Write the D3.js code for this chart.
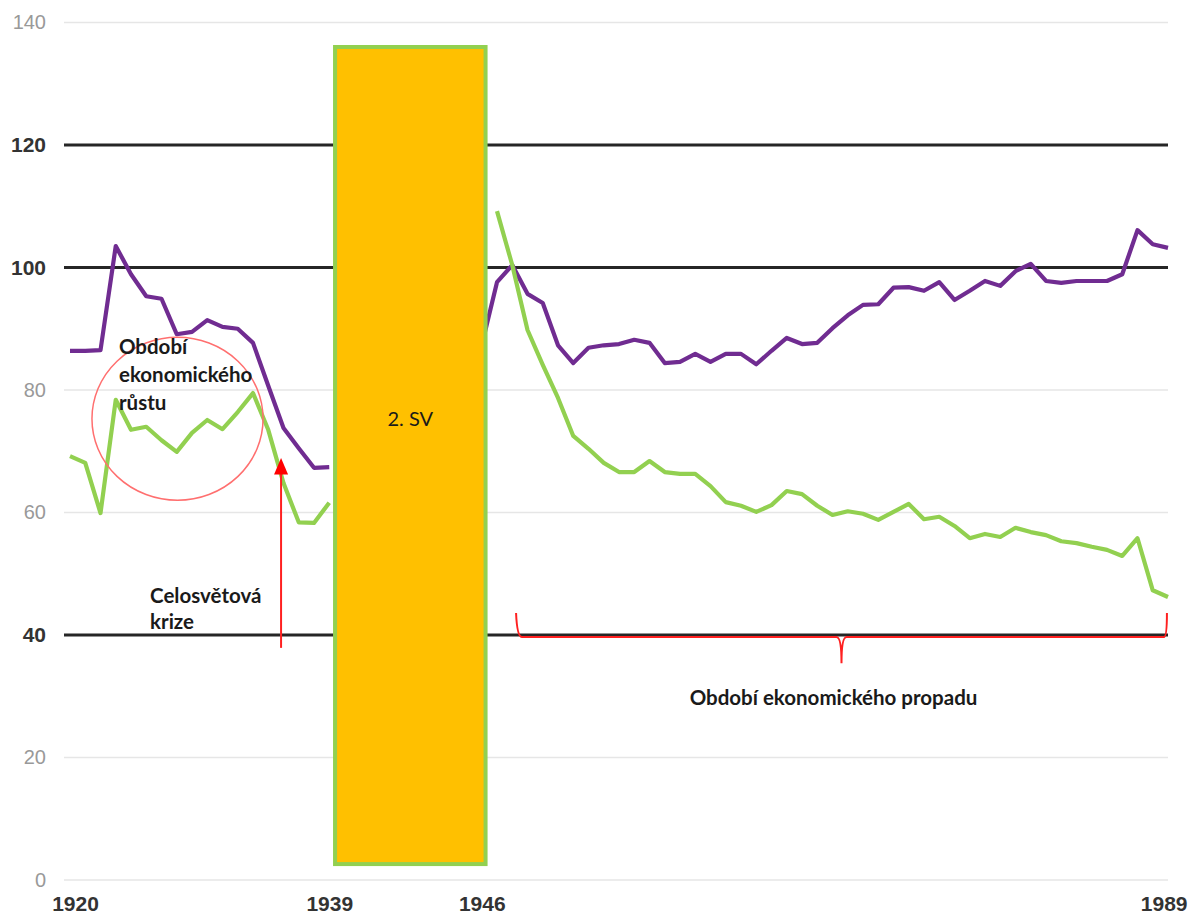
<!DOCTYPE html>
<html>
<head>
<meta charset="utf-8">
<script src="https://cdn.jsdelivr.net/npm/d3@7/dist/d3.min.js"></script>
<style>
  body { margin: 0; background: #fff; }
  svg { display: block; }
</style>
</head>
<body>
<div id="chart"></div>
<script>
// years before the war and after it
const preYears = [1920, 1921, 1922, 1923, 1924, 1925, 1926, 1927, 1928, 1929,
    1930, 1931, 1932, 1933, 1934, 1935, 1936, 1937];
const postYears = [1947, 1948, 1949, 1950, 1951, 1952, 1953, 1954, 1955, 1956,
    1957, 1958, 1959, 1960, 1961, 1962, 1963, 1964, 1965, 1966,
    1967, 1968, 1969, 1970, 1971, 1972, 1973, 1974, 1975, 1976,
    1977, 1978, 1979, 1980, 1981, 1982, 1983, 1984, 1985, 1986,
    1987, 1988, 1989, 1990, 1991, 1992];

// purple series
const purplePre = [86.4, 86.4, 86.5, 103.5, 98.9, 95.3, 94.9, 89.1, 89.5, 91.4,
    90.3, 90.0, 87.7, 80.7, 73.8, 70.5, 67.3, 67.4];
const purplePost = [87.3, 97.6, 100.4, 95.7, 94.2, 87.3, 84.4, 86.9, 87.3, 87.5,
    88.2, 87.7, 84.4, 84.6, 85.9, 84.6, 85.9, 85.9, 84.2, 86.4,
    88.5, 87.5, 87.7, 90.1, 92.2, 93.9, 94.0, 96.7, 96.8, 96.2,
    97.6, 94.7, 96.2, 97.8, 97.0, 99.4, 100.6, 97.8, 97.5, 97.8,
    97.8, 97.8, 98.9, 106.1, 103.8, 103.2];

// green series
const greenPre = [69.2, 68.1, 59.9, 78.4, 73.5, 74.0, 71.8, 69.9, 73.0, 75.1,
    73.6, 76.4, 79.5, 73.5, 64.8, 58.4, 58.3, 61.6];
const greenPost = [null, 109.2, 100.4, 89.8, 84.1, 78.7, 72.5, 70.4, 68.1, 66.6,
    66.6, 68.4, 66.6, 66.3, 66.3, 64.3, 61.7, 61.1, 60.1, 61.2,
    63.5, 63.0, 61.1, 59.6, 60.2, 59.8, 58.8, 60.1, 61.4, 58.9,
    59.3, 57.8, 55.8, 56.5, 56.0, 57.5, 56.8, 56.3, 55.3, 55.0,
    54.4, 53.9, 52.9, 55.8, 47.3, 46.2];

// axes
const yTicks = [0, 20, 40, 60, 80, 100, 120, 140];
const yStrong = [40, 100, 120];
const xTickYears = [1920, 1937, 1947, 1992];
const xTickLabels = ["1920", "1939", "1946", "1989"];

// war block (years, values)
const warFrom = 1937.38, warTo = 1947.25, warLow = 2.6, warHigh = 136;
const warLabel = "2. SV";

const width = 1192;
const height = 921;

const svg = d3.select("#chart")
    .append("svg")
    .attr("width", width)
    .attr("height", height);

const x = d3.scaleLinear().domain([1920, 1992]).range([70, 1168]);
const y = d3.scaleLinear().domain([0, 140]).range([880, 22.5]);

const gridLeft = 64, gridRight = 1168;

// gridlines
svg.append("g")
    .selectAll("line")
    .data(yTicks)
    .enter().append("line")
    .attr("x1", gridLeft)
    .attr("x2", gridRight)
    .attr("y1", d => y(d))
    .attr("y2", d => y(d))
    .attr("stroke", d => yStrong.includes(d) ? "#262626" : "#e6e6e6")
    .attr("stroke-width", d => yStrong.includes(d) ? 3 : 1.5);

// y axis labels
const yAxis = svg.append("g")
    .attr("transform", `translate(46,0)`)
    .call(d3.axisLeft(y).tickValues(yTicks).tickSize(0).tickPadding(0));
yAxis.select(".domain").remove();
yAxis.selectAll("text")
    .attr("font-family", "Liberation Sans, Arial, sans-serif")
    .attr("font-size", d => yStrong.includes(d) ? 21 : 20)
    .attr("font-weight", d => yStrong.includes(d) ? "bold" : "normal")
    .attr("fill", d => yStrong.includes(d) ? "#333" : "#999");

// x axis labels
const xAxis = svg.append("g")
    .attr("transform", `translate(0,896)`)
    .call(d3.axisBottom(x).tickValues(xTickYears)
        .tickFormat((d, i) => xTickLabels[i]).tickSize(0).tickPadding(0));
xAxis.select(".domain").remove();
xAxis.selectAll("text")
    .attr("font-family", "Liberation Sans, Arial, sans-serif")
    .attr("font-size", 21)
    .attr("font-weight", "bold")
    .attr("fill", "#333")
    .attr("text-anchor", (d, i) => i === xTickYears.length - 1 ? "end" : "middle")
    .attr("dx", (d, i) => i === 0 ? 5 : (i === xTickYears.length - 1 ? 19 : 0));

// lines
const line = d3.line()
    .defined(d => d.v != null)
    .x(d => x(d.year))
    .y(d => y(d.v));

function series(years, values) {
    return years.map((yr, i) => ({ year: yr, v: values[i] }));
}

const segments = [
    { data: series(preYears, purplePre), color: "#702c91" },
    { data: series(postYears, purplePost), color: "#702c91" },
    { data: series(preYears, greenPre), color: "#92d050" },
    { data: series(postYears, greenPost), color: "#92d050" }
];

svg.append("g")
    .selectAll("path")
    .data(segments)
    .enter().append("path")
    .attr("d", d => line(d.data))
    .attr("fill", "none")
    .attr("stroke", d => d.color)
    .attr("stroke-width", 4.2)
    .attr("stroke-linejoin", "round");

// war block
svg.append("rect")
    .attr("x", x(warFrom))
    .attr("y", y(warHigh))
    .attr("width", x(warTo) - x(warFrom))
    .attr("height", y(warLow) - y(warHigh))
    .attr("fill", "#ffc000")
    .attr("stroke", "#92d050")
    .attr("stroke-width", 4);

const noteFont = "Lato, 'Open Sans', sans-serif";
const noteSize = 20.5;

svg.append("text")
    .attr("x", x((warFrom + warTo) / 2))
    .attr("y", y(75.3) + 7)
    .attr("text-anchor", "middle")
    .attr("font-family", noteFont)
    .attr("font-size", 20)
    .attr("fill", "#1a1a1a")
    .text(warLabel);

// growth period: circle + label
svg.append("ellipse")
    .attr("cx", x(1927.05))
    .attr("cy", y(75.3))
    .attr("rx", x(1920 + 5.61) - x(1920))
    .attr("ry", y(0) - y(13.3))
    .attr("fill", "none")
    .attr("stroke", "#ff6f6f")
    .attr("stroke-width", 1.5);

const growthText = ["Období", "ekonomického", "růstu"];
const growthY = [85.9, 81.3, 76.7];
svg.append("g")
    .selectAll("text")
    .data(growthText)
    .enter().append("text")
    .attr("x", x(1923.21))
    .attr("y", (d, i) => y(growthY[i]))
    .attr("font-family", noteFont)
    .attr("font-size", noteSize)
    .attr("font-weight", "bold")
    .attr("fill", "#1a1a1a")
    .text(d => d);

// crisis arrow + label
const arrowX = x(1933.84);
svg.append("line")
    .attr("x1", arrowX).attr("x2", arrowX)
    .attr("y1", y(37.9)).attr("y2", y(66.4))
    .attr("stroke", "#ff2020")
    .attr("stroke-width", 2);
svg.append("path")
    .attr("d", `M${arrowX},${y(68.9)} L${arrowX - 7},${y(66.2)} L${arrowX + 7},${y(66.2)} Z`)
    .attr("fill", "#ff0000");

const crisisText = ["Celosvětová", "krize"];
const crisisY = [45.2, 41.0];
svg.append("g")
    .selectAll("text")
    .data(crisisText)
    .enter().append("text")
    .attr("x", x(1925.25))
    .attr("y", (d, i) => y(crisisY[i]))
    .attr("font-family", noteFont)
    .attr("font-size", noteSize)
    .attr("font-weight", "bold")
    .attr("fill", "#1a1a1a")
    .text(d => d);

// decline period: brace + label
const bx0 = x(1949.25), bx1 = x(1991.93), bm = (bx0 + bx1) / 2;
const by = y(39.67), byTop = y(43.6), byTip = y(35.4);
svg.append("path")
    .attr("d", `M${bx0},${byTop} Q${bx0 + 1},${by} ${bx0 + 6},${by} L${bm - 5},${by} Q${bm},${by} ${bm},${byTip}` +
        ` M${bm},${byTip} Q${bm},${by} ${bm + 5},${by} L${bx1 - 3},${by} Q${bx1},${by} ${bx1},${byTop}`)
    .attr("fill", "none")
    .attr("stroke", "#ff2020")
    .attr("stroke-width", 2);

svg.append("text")
    .attr("x", bm - 8)
    .attr("y", y(28.6))
    .attr("text-anchor", "middle")
    .attr("font-family", noteFont)
    .attr("font-size", noteSize)
    .attr("font-weight", "bold")
    .attr("fill", "#1a1a1a")
    .text("Období ekonomického propadu");
</script>
</body>
</html>
